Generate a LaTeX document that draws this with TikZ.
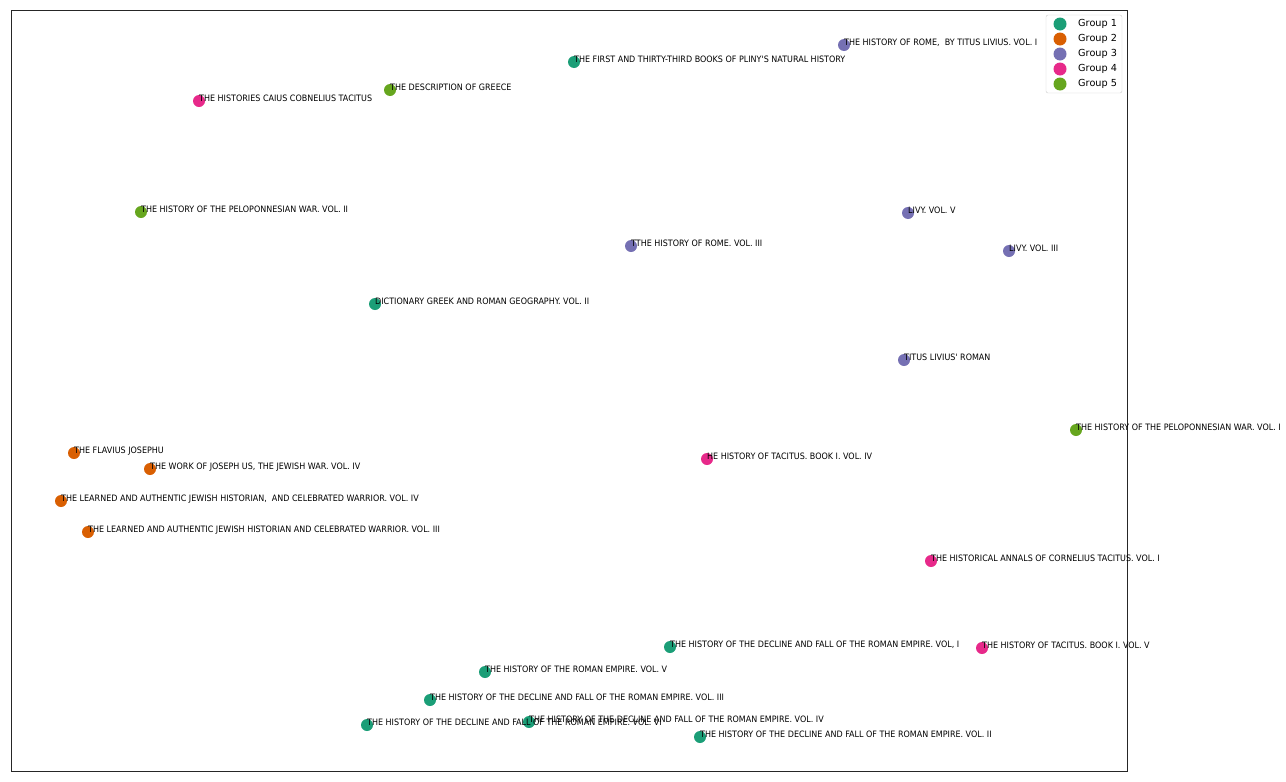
\documentclass[tikz,border=0pt]{standalone}
\usepackage{fontspec}
\setmainfont{DejaVu Sans}
\newfontfamily\labfont{DejaVu Sans}[FakeStretch=0.91]
\definecolor{gone}{HTML}{1B9E77}
\definecolor{gtwo}{HTML}{D95F02}
\definecolor{gthree}{HTML}{7570B3}
\definecolor{gfour}{HTML}{E7298A}
\definecolor{gfive}{HTML}{66A61E}

\begin{document}
\begin{tikzpicture}[x=1pt,y=-1pt]
	\tikzset{dot/.style={circle,inner sep=0pt,minimum size=12pt}}
	\tikzset{lab/.style={anchor=base west,inner sep=0pt,font=\labfont\fontsize{8.8}{9}\selectfont}}
	\tikzset{leg/.style={anchor=west,inner sep=0pt,font=\fontsize{9.7}{10}\selectfont}}

	\useasboundingbox (0,0) rectangle (1286,782);
	\draw[line width=0.9pt,black!85] (11,10) rectangle (1127,771);

	% group 1
	    \node[dot,fill=gone] (a1) at (574,62) {};
	    \node[dot,fill=gone] (a2) at (375,304) {};
	    \node[dot,fill=gone] (a3) at (670,647) {};
	    \node[dot,fill=gone] (a4) at (485,672) {};
	    \node[dot,fill=gone] (a5) at (430,700) {};
	    \node[dot,fill=gone] (a6) at (367,725) {};
	    \node[dot,fill=gone] (a7) at (529,722) {};
	    \node[dot,fill=gone] (a8) at (700,737) {};
	% group 2
	    \node[dot,fill=gtwo] (b1) at (74,453) {};
	    \node[dot,fill=gtwo] (b2) at (150,469) {};
	    \node[dot,fill=gtwo] (b3) at (61,501) {};
	    \node[dot,fill=gtwo] (b4) at (88,532) {};
	% group 3
	    \node[dot,fill=gthree] (c1) at (844,45) {};
	    \node[dot,fill=gthree] (c2) at (908,213) {};
	    \node[dot,fill=gthree] (c3) at (631,246) {};
	    \node[dot,fill=gthree] (c4) at (1009,251) {};
	    \node[dot,fill=gthree] (c5) at (904,360) {};
	% group 4
	    \node[dot,fill=gfour] (d1) at (199,101) {};
	    \node[dot,fill=gfour] (d2) at (707,459) {};
	    \node[dot,fill=gfour] (d3) at (931,561) {};
	    \node[dot,fill=gfour] (d4) at (982,648) {};
	% group 5
	    \node[dot,fill=gfive] (e1) at (390,90) {};
	    \node[dot,fill=gfive] (e2) at (141,212) {};
	    \node[dot,fill=gfive] (e3) at (1076,430) {};

	% labels
	    \node[lab] at (a1.center) {THE FIRST AND THIRTY-THIRD BOOKS OF PLINY'S NATURAL HISTORY};
	    \node[lab] at (a2.center) {DICTIONARY GREEK AND ROMAN GEOGRAPHY. VOL. II};
	    \node[lab] at (a3.center) {THE HISTORY OF THE DECLINE AND FALL OF THE ROMAN EMPIRE. VOL, I};
	    \node[lab] at (a4.center) {THE HISTORY OF THE ROMAN EMPIRE. VOL. V};
	    \node[lab] at (a5.center) {THE HISTORY OF THE DECLINE AND FALL OF THE ROMAN EMPIRE. VOL. III};
	    \node[lab] at (a6.center) {THE HISTORY OF THE DECLINE AND FALL OF THE ROMAN EMPIRE. VOL. VI};
	    \node[lab] at (a7.center) {THE HISTORY OF THE DECLINE AND FALL OF THE ROMAN EMPIRE. VOL. IV};
	    \node[lab] at (a8.center) {THE HISTORY OF THE DECLINE AND FALL OF THE ROMAN EMPIRE. VOL. II};
	    \node[lab] at (b1.center) {THE FLAVIUS JOSEPHU};
	    \node[lab] at (b2.center) {THE WORK OF JOSEPH US, THE JEWISH WAR. VOL. IV};
	    \node[lab] at (b3.center) {THE LEARNED AND AUTHENTIC JEWISH HISTORIAN,\ \ AND CELEBRATED WARRIOR. VOL. IV};
	    \node[lab] at (b4.center) {THE LEARNED AND AUTHENTIC JEWISH HISTORIAN AND CELEBRATED WARRIOR. VOL. III};
	    \node[lab] at (c1.center) {THE HISTORY OF ROME,\ \ BY TITUS LIVIUS. VOL. I};
	    \node[lab] at (c2.center) {LIVY. VOL. V};
	    \node[lab] at (c3.center) {TTHE HISTORY OF ROME. VOL. III};
	    \node[lab] at (c4.center) {LIVY. VOL. III};
	    \node[lab] at (c5.center) {TITUS LIVIUS' ROMAN};
	    \node[lab] at (d1.center) {THE HISTORIES CAIUS COBNELIUS TACITUS};
	    \node[lab] at (d2.center) {HE HISTORY OF TACITUS. BOOK I. VOL. IV};
	    \node[lab] at (d3.center) {THE HISTORICAL ANNALS OF CORNELIUS TACITUS. VOL. I};
	    \node[lab] at (d4.center) {THE HISTORY OF TACITUS. BOOK I. VOL. V};
	    \node[lab] at (e1.center) {THE DESCRIPTION OF GREECE};
	    \node[lab] at (e2.center) {THE HISTORY OF THE PELOPONNESIAN WAR. VOL. II};
	    \node[lab] at (e3.center) {THE HISTORY OF THE PELOPONNESIAN WAR. VOL. I};

	% legend
	    \draw[rounded corners=2pt,draw=black!20,fill=white,fill opacity=0.8] (1046,15) rectangle (1122,93);
	    \node[dot,fill=gone,minimum size=13pt] (l1) at (1060,24) {};
	    \node[dot,fill=gtwo,minimum size=13pt] (l2) at (1060,39) {};
	    \node[dot,fill=gthree,minimum size=13pt] (l3) at (1060,54) {};
	    \node[dot,fill=gfour,minimum size=13pt] (l4) at (1060,69) {};
	    \node[dot,fill=gfive,minimum size=13pt] (l5) at (1060,84) {};
	    \node[leg] at (1078,24) {Group 1};
	    \node[leg] at (1078,39) {Group 2};
	    \node[leg] at (1078,54) {Group 3};
	    \node[leg] at (1078,69) {Group 4};
	    \node[leg] at (1078,84) {Group 5};
\end{tikzpicture}
\end{document}
